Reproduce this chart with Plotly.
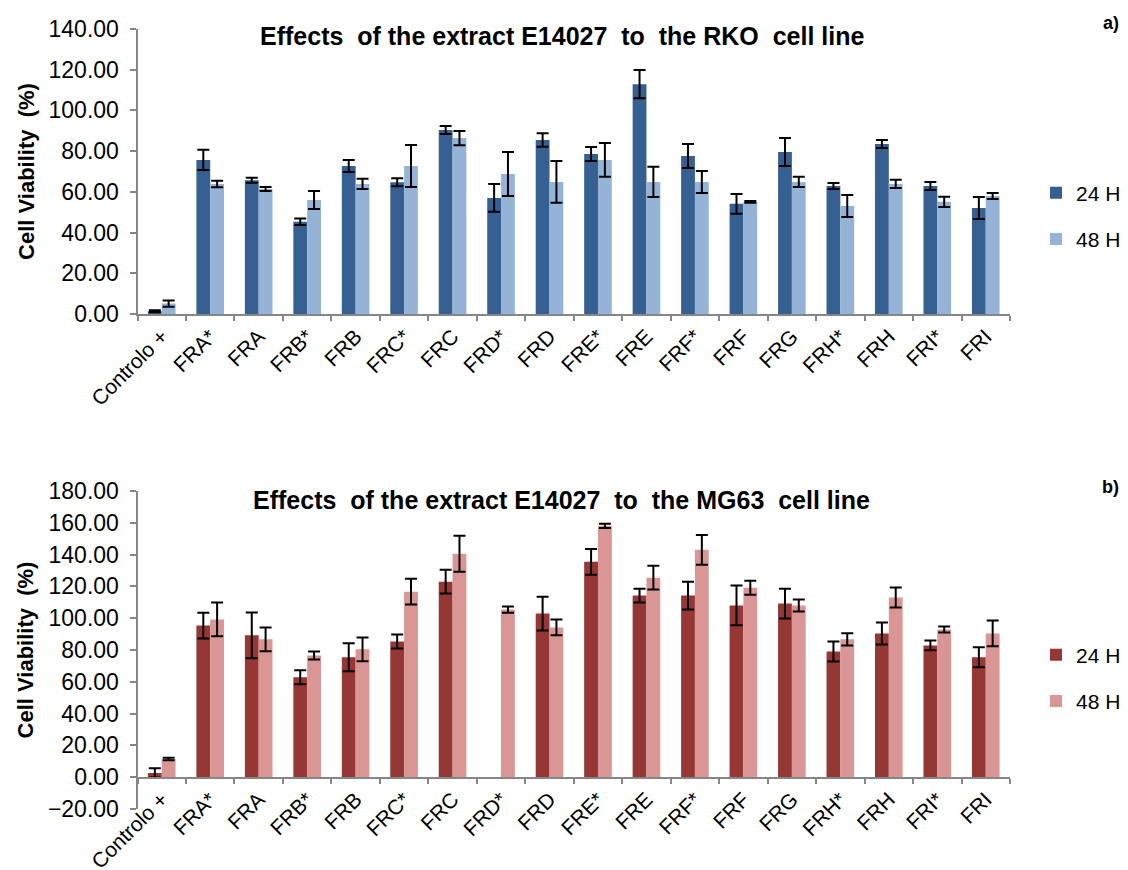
import plotly.graph_objects as go

# Fractions tested on each cell line
categories = ["Controlo +", "FRA*", "FRA", "FRB*", "FRB", "FRC*", "FRC", "FRD*", "FRD",
              "FRE*", "FRE", "FRF*", "FRF", "FRG", "FRH*", "FRH", "FRI*", "FRI"]

# RKO cell line: viability (%) and standard deviation
rko_24 = [1.3, 75.7, 65.7, 45.3, 72.7, 64.7, 90.4, 57.0, 85.5, 78.6, 112.9, 77.6, 54.1, 79.6, 62.9, 83.5, 62.9, 52.1]
rko_24_sd = [0.5, 5.0, 1.2, 1.6, 2.9, 2.0, 2.0, 6.8, 3.3, 3.4, 6.9, 5.9, 4.8, 6.9, 1.5, 2.0, 2.0, 5.4]
rko_48 = [5.1, 63.9, 61.4, 56.0, 63.9, 72.7, 86.4, 68.8, 64.9, 75.7, 64.9, 64.9, 55.1, 64.9, 53.1, 63.9, 55.1, 58.0]
rko_48_sd = [1.5, 1.6, 1.0, 4.4, 2.5, 10.3, 3.5, 10.8, 10.2, 8.3, 7.4, 5.4, 0.4, 2.5, 5.4, 2.0, 2.5, 1.5]

# MG63 cell line: viability (%) and standard deviation
mg63_24 = [2.7, 95.4, 89.2, 62.9, 75.4, 85.4, 123.0, None, 102.9, 135.5, 114.2, 114.2, 108.0, 109.2, 79.1, 90.4, 82.9, 75.4]
mg63_24_sd = [2.9, 8.1, 14.4, 4.4, 8.8, 4.4, 7.5, None, 10.6, 8.1, 4.4, 8.8, 12.5, 9.4, 6.3, 6.9, 3.1, 6.3]
mg63_48 = [11.5, 99.2, 86.7, 76.6, 80.4, 116.7, 140.5, 105.4, 94.2, 158.1, 125.5, 143.0, 119.2, 108.0, 86.7, 113.0, 92.9, 90.4]
mg63_48_sd = [0.8, 10.6, 7.5, 2.5, 7.5, 8.1, 11.3, 1.9, 5.0, 1.3, 7.5, 9.4, 4.4, 3.8, 3.8, 6.3, 1.9, 8.1]

FONT = "Liberation Sans, Arial, sans-serif"
AXIS_GREY = "#868686"

W, H = 1128, 870


def px_x(p):
    return p / W


def px_y(p):
    return 1 - p / H


def err(sd):
    return dict(type="data", array=sd, visible=True, color="black", thickness=2, width=6)


fig = go.Figure()

series = [
    ("24 H", rko_24, rko_24_sd, "#376092", "x", "y", "legend", "a24"),
    ("48 H", rko_48, rko_48_sd, "#95B3D7", "x", "y", "legend", "a48"),
    ("24 H", mg63_24, mg63_24_sd, "#953735", "x2", "y2", "legend2", "b24"),
    ("48 H", mg63_48, mg63_48_sd, "#D99694", "x2", "y2", "legend2", "b48"),
]
for name, vals, sd, color, xa, ya, leg, grp in series:
    fig.add_trace(go.Bar(
        x=categories, y=vals, name=name, marker=dict(color=color, line=dict(width=0)),
        error_y=err(sd), xaxis=xa, yaxis=ya, legend=leg, legendgroup=grp,
    ))

x_dom = [px_x(137.5), px_x(1010)]

common_x = dict(
    type="category", showline=True, linecolor=AXIS_GREY, linewidth=2,
    ticks="outside", tickson="boundaries", ticklen=5, tickwidth=2, tickcolor=AXIS_GREY,
    tickangle=-45, tickfont=dict(family=FONT, size=21, color="black"),
    showgrid=False, zeroline=False, fixedrange=True, automargin=False,
)
common_y = dict(
    showline=True, linecolor=AXIS_GREY, linewidth=2, ticks="outside", ticklen=6,
    tickwidth=2, tickcolor=AXIS_GREY, tickformat=".2f", dtick=20,
    tickfont=dict(family=FONT, size=23, color="black"), ticklabelstandoff=6,
    showgrid=False, zeroline=False, automargin=False,
    title=dict(text="<b>Cell Viability  (%)</b>", font=dict(family=FONT, size=22, color="black"), standoff=8),
)

fig.update_layout(
    width=W, height=H,
    margin=dict(l=0, r=0, t=0, b=0, autoexpand=False),
    paper_bgcolor="white", plot_bgcolor="white",
    barmode="group", bargap=0.43, bargroupgap=0,
    font=dict(family=FONT, color="black"),
    xaxis=dict(domain=x_dom, anchor="y", **common_x),
    yaxis=dict(domain=[px_y(314), px_y(29)], range=[0, 140], anchor="x", **common_y),
    xaxis2=dict(domain=x_dom, anchor="free", position=px_y(778), **common_x),
    yaxis2=dict(domain=[px_y(809), px_y(491)], range=[-20, 180], anchor="x2", **common_y),
    legend=dict(x=px_x(1036), y=px_y(216), xanchor="left", yanchor="middle",
                font=dict(family=FONT, size=21, color="black"), tracegroupgap=16,
                traceorder="grouped", bgcolor="rgba(0,0,0,0)"),
    legend2=dict(x=px_x(1036), y=px_y(678), xanchor="left", yanchor="middle",
                 font=dict(family=FONT, size=21, color="black"), tracegroupgap=16,
                 traceorder="grouped", bgcolor="rgba(0,0,0,0)"),
    annotations=[
        dict(text="<b>Effects  of the extract E14027  to  the RKO  cell line</b>",
             x=px_x(562), y=px_y(36), xref="paper", yref="paper", showarrow=False,
             xanchor="center", yanchor="middle", font=dict(family=FONT, size=25, color="black")),
        dict(text="<b>Effects  of the extract E14027  to  the MG63  cell line</b>",
             x=px_x(561), y=px_y(500), xref="paper", yref="paper", showarrow=False,
             xanchor="center", yanchor="middle", font=dict(family=FONT, size=25, color="black")),
        dict(text="<b>a)</b>", x=px_x(1121), y=px_y(23), xref="paper", yref="paper",
             showarrow=False, xanchor="right", yanchor="middle",
             font=dict(family=FONT, size=18, color="black")),
        dict(text="<b>b)</b>", x=px_x(1121), y=px_y(487), xref="paper", yref="paper",
             showarrow=False, xanchor="right", yanchor="middle",
             font=dict(family=FONT, size=18, color="black")),
    ],
)

fig.write_html("out.html")
